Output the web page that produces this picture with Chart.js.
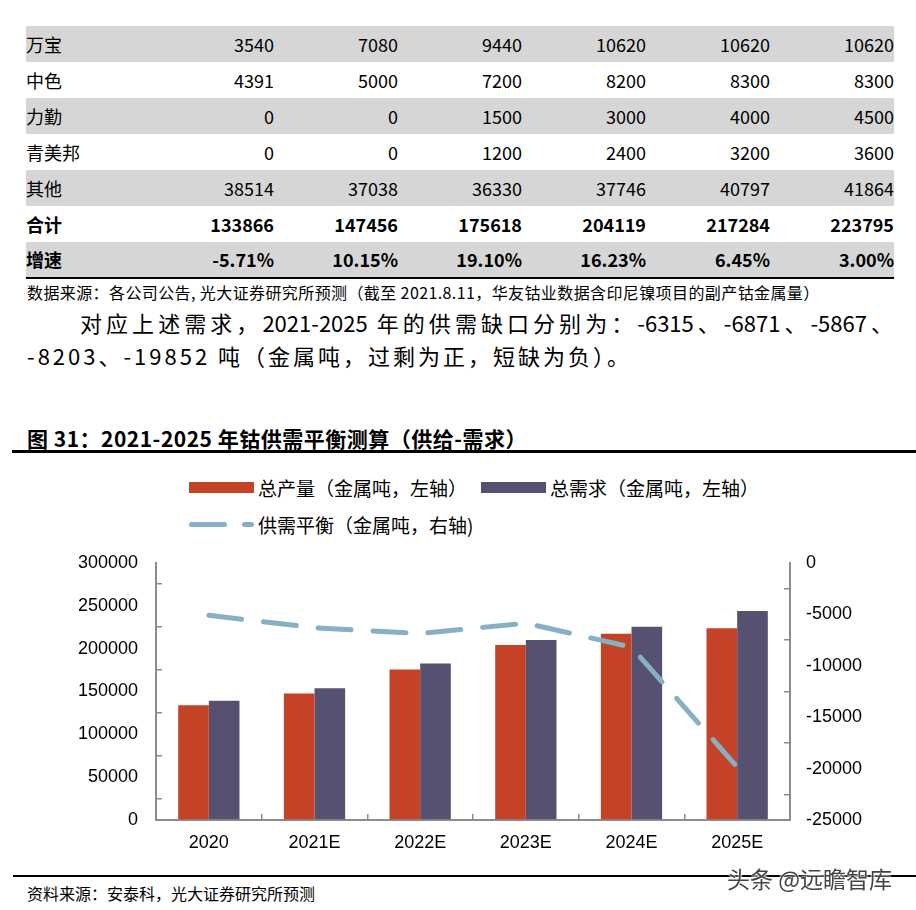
<!DOCTYPE html>
<html>
<head>
<meta charset="utf-8">
<script src="https://cdn.jsdelivr.net/npm/chart.js@4.4.0/dist/chart.umd.min.js"></script>
<style>
  body { margin: 0; width: 916px; height: 910px; background: #fff; position: relative; overflow: hidden;
         font-family: "Noto Sans CJK SC", "Noto Sans", sans-serif; color: #000; }
  .abs { position: absolute; }
  #tbl { left: 26px; top: 26px; border-collapse: collapse; table-layout: fixed; width: 868px; font-size: 18px; }
  #tbl td { width: 124px; height: 36px; padding: 0; text-align: right; line-height: 36px; white-space: nowrap; }
  #tbl td:first-child { text-align: left; }
  #tbl tr.g td { background: #d6d6d6; }
  #tbl tr.b td { font-weight: bold; }
  #tbl tr:last-child td { height: 35px; line-height: 35px; }
  .rule { background: #000; }
  .src { font-size: 16px; white-space: nowrap; }
  .para { font-size: 22px; line-height: 33px; white-space: nowrap; }
  #para1 { left: 27px; top: 306px; width: 866px; text-indent: 53px; text-align: justify; text-align-last: justify; white-space: normal; }
  #para2 { left: 27px; top: 339px; letter-spacing: 3px; }
  #title { left: 27px; top: 423px; font-size: 21px; letter-spacing: 0.5px; font-weight: bold; white-space: nowrap; }
  #legend { left: 189px; top: 476px; width: 580px; display: flex; flex-wrap: wrap; column-gap: 14px; row-gap: 15px; }
  .item { display: flex; align-items: center; height: 22px; font-size: 19px; white-space: nowrap; }
  .sw { width: 65px; height: 11px; margin-right: 4px; }
  #chartBox { left: 0; top: 528px; width: 916px; height: 334px; }
  #wm { left: 727px; top: 861px; font-size: 23px; color: #444; white-space: nowrap;
        text-shadow: 0 0 2px #fff, 0 0 2px #fff, 0 0 3px #fff; }
</style>
</head>
<body>

<table id="tbl" class="abs"></table>
<div class="abs rule" style="left:26px;top:277px;width:868px;height:2px;"></div>
<div class="abs src" style="left:27px;top:280px;letter-spacing:0.4px;">数据来源：各公司公告, 光大证券研究所预测（截至 2021.8.11，华友钴业数据含印尼镍项目的副产钴金属量）</div>
<div id="para1" class="abs para">对应上述需求，2021-2025 年的供需缺口分别为：-6315、-6871、-5867、</div>
<div id="para2" class="abs para">-8203、-19852 吨（金属吨，过剩为正，短缺为负）。</div>
<div id="title" class="abs">图 31：2021-2025 年钴供需平衡测算（供给-需求）</div>
<div class="abs rule" style="left:12px;top:450px;width:904px;height:3px;"></div>
<div id="legend" class="abs"></div>
<div id="chartBox" class="abs"><canvas id="balanceChart"></canvas></div>
<div class="abs rule" style="left:13px;top:875px;width:903px;height:2px;"></div>
<div class="abs src" style="left:27px;top:881px;">资料来源：安泰科，光大证券研究所预测</div>
<div id="wm" class="abs">头条 @远瞻智库</div>

<script>
// --- table data ---
const tableLabels = ['万宝', '中色', '力勤', '青美邦', '其他', '合计', '增速'];
const wanbao = [3540, 7080, 9440, 10620, 10620, 10620];
const zhongse = [4391, 5000, 7200, 8200, 8300, 8300];
const liqin = [0, 0, 1500, 3000, 4000, 4500];
const qingmeibang = [0, 0, 1200, 2400, 3200, 3600];
const others = [38514, 37038, 36330, 37746, 40797, 41864];
const total = [133866, 147456, 175618, 204119, 217284, 223795];
const growth = ['-5.71%', '10.15%', '19.10%', '16.23%', '6.45%', '3.00%'];

// --- chart data ---
const years = ['2020', '2021E', '2022E', '2023E', '2024E', '2025E'];
const supply = [133866, 147456, 175618, 204119, 217284, 223795];
const demand = [138966, 153771, 182489, 209986, 225487, 243647];
const balance = [-5100, -6315, -6871, -5867, -8203, -19852];
const seriesNames = ['总产量（金属吨，左轴）', '总需求（金属吨，左轴）', '供需平衡（金属吨，右轴)'];
const leftTicks = { min: 0, max: 300000, step: 50000 };
const rightTicks = { min: -25000, max: 0, step: 5000 };

// table
const tbl = document.getElementById('tbl');
[wanbao, zhongse, liqin, qingmeibang, others, total, growth].forEach((row, i) => {
    const tr = document.createElement('tr');
    if (i % 2 === 0) tr.classList.add('g');
    if (i >= 5) tr.classList.add('b');
    tr.innerHTML = `<td>${tableLabels[i]}</td>` + row.map(v => `<td>${v}</td>`).join('');
    tbl.appendChild(tr);
});

// chart
const axisColor = '#8c8c8c';
const tickFont = { family: '"Liberation Sans", Arial, sans-serif', size: 18 };

function axisGrid() {
    return { drawOnChartArea: false, drawTicks: true, tickLength: -6, color: axisColor, lineWidth: 1.5, offset: true };
}

const ctx = document.getElementById('balanceChart').getContext('2d');
const myChart = new Chart(ctx, {
    type: 'bar',
    data: {
        labels: years,
        datasets: [
            { label: seriesNames[0], data: supply, backgroundColor: '#c44326', yAxisID: 'y', order: 1,
              barPercentage: 1, categoryPercentage: 0.58 },
            { label: seriesNames[1], data: demand, backgroundColor: '#575171', yAxisID: 'y', order: 1,
              barPercentage: 1, categoryPercentage: 0.58 },
            { label: seriesNames[2], data: balance, type: 'line', yAxisID: 'y1', order: 0,
              borderColor: '#86b0c4', borderWidth: 5, borderDash: [33, 22], borderCapStyle: 'round',
              pointRadius: 0, fill: false, tension: 0 }
        ]
    },
    options: {
        responsive: true,
        maintainAspectRatio: false,
        animation: false,
        layout: { padding: { top: 12, left: 0, right: 0, bottom: 0 } },
        plugins: { legend: { display: false }, tooltip: { enabled: false } },
        scales: {
            x: {
                position: 'bottom',
                grid: axisGrid(),
                border: { color: axisColor, width: 2 },
                ticks: { font: tickFont, color: '#000', padding: 18 },
                afterFit: s => { s.height = 42; }
            },
            y: {
                position: 'left',
                min: leftTicks.min, max: leftTicks.max,
                grid: axisGrid(),
                border: { color: axisColor, width: 2 },
                ticks: { stepSize: leftTicks.step, font: tickFont, color: '#000', padding: 24, callback: v => String(v) },
                afterFit: s => { s.width = 156; }
            },
            y1: {
                position: 'right',
                min: rightTicks.min, max: rightTicks.max,
                grid: axisGrid(),
                border: { color: axisColor, width: 2 },
                ticks: { stepSize: rightTicks.step, font: tickFont, color: '#000', padding: 22, callback: v => String(v) },
                afterFit: s => { s.width = 126; }
            }
        }
    }
});

// html legend from the datasets
const legendBox = document.getElementById('legend');
myChart.data.datasets.forEach(ds => {
    const item = document.createElement('div');
    item.className = 'item';
    let swatch;
    if (ds.type === 'line') {
        swatch = `<svg class="sw" width="65" height="11"><line x1="2.5" y1="5.5" x2="62.5" y2="5.5" stroke="${ds.borderColor}" stroke-width="5" stroke-linecap="round" stroke-dasharray="33 20"/></svg>`;
    } else {
        swatch = `<div class="sw" style="background:${ds.backgroundColor}"></div>`;
    }
    item.innerHTML = swatch + `<span>${ds.label}</span>`;
    legendBox.appendChild(item);
});
</script>
</body>
</html>
